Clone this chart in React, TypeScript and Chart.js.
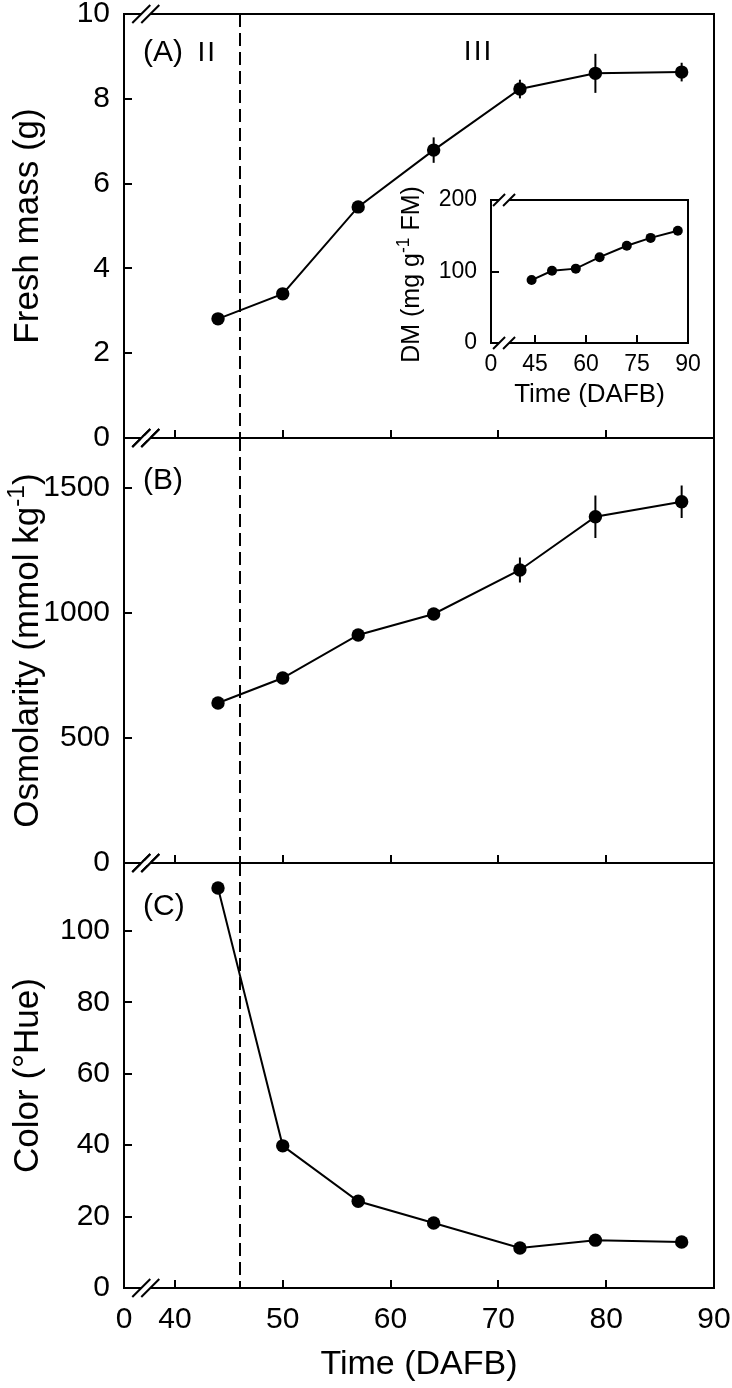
import React, { useEffect, useRef } from 'react';
import { Chart, registerables } from 'chart.js';

Chart.register(...registerables);

const FONT = '"Liberation Sans", Arial, Helvetica, sans-serif';

// ---------------- data ----------------
const days = [44, 50, 57, 64, 72, 79, 87];
const freshMass = [2.81, 3.4, 5.45, 6.79, 8.23, 8.6, 8.63];
const freshMassErr = [0, 0, 0.1, 0.3, 0.22, 0.46, 0.22];
const osmolarity = [640, 740, 912, 996, 1172, 1385, 1445];
const osmolarityErr = [0, 0, 20, 20, 50, 85, 65];
const hue = [112, 39.8, 24.3, 18.2, 11.2, 13.4, 12.9];
const hueErr = [0, 0, 0, 0, 0, 0, 0];
const dryMatter = [88, 101, 104, 120, 136, 147, 157];

const stageBoundary = 46;

// main x axis (broken: "0" sits at the left edge)
const xAxisMin = 35.28;
const xAxisMax = 90;
const xTickValues = [35.28, 40, 50, 60, 70, 80, 90];
const xTickLabels = ['0', '40', '50', '60', '70', '80', '90'];
const xBreakAt = 37.3;

const yTicksA = [0, 2, 4, 6, 8, 10];
const yTicksB = [0, 500, 1000, 1500];
const yTicksC = [0, 20, 40, 60, 80, 100];

// inset axis
const insetXMin = 32.06;
const insetXMax = 90;
const insetXTickValues = [32.06, 45, 60, 75, 90];
const insetXTickLabels = ['0', '45', '60', '75', '90'];
const insetXBreakAt = 35.9;
const insetYTicks = [0, 100, 200];

// ---------------- helpers ----------------
type Part = { text: string; sup?: boolean };
type Label = { text: string; x: number; dy: number; size: number; spacing?: number };

interface Spec {
  xs: number[];
  ys: number[];
  errs: number[];
  xMin: number;
  xMax: number;
  xTicks: number[];
  xLabels: string[];
  showXLabels: boolean;
  xBreak: number;
  yMin: number;
  yMax: number;
  yTicks: number[];
  padTop: number;
  padRight: number;
  yAxisWidth: number;
  xAxisHeight: number;
  tickSize: number;
  yTickPad: number;
  xTickPad: number;
  tickLen: number;
  pointRadius: number;
  lineWidth: number;
  frameWidth: number;
  yTitle: Part[];
  yTitleSize: number;
  yTitleDx: number;
  yTitleDy: number;
  xTitle?: string;
  xTitleSize?: number;
  xTitleDy?: number;
  dashedAt?: number;
  labels: Label[];
  breakHalf: number;
  breakGap: number;
  fillWhite?: boolean;
}

function drawRich(
  ctx: CanvasRenderingContext2D,
  parts: Part[],
  size: number,
  x: number,
  y: number,
  rotate: boolean
) {
  ctx.save();
  ctx.translate(x, y);
  if (rotate) ctx.rotate(-Math.PI / 2);
  const supSize = size * 0.7;
  let total = 0;
  const widths = parts.map((p) => {
    ctx.font = `${p.sup ? supSize : size}px ${FONT}`;
    const w = ctx.measureText(p.text).width;
    total += w;
    return w;
  });
  let xx = -total / 2;
  ctx.fillStyle = '#000';
  ctx.textAlign = 'left';
  ctx.textBaseline = 'alphabetic';
  parts.forEach((p, i) => {
    ctx.font = `${p.sup ? supSize : size}px ${FONT}`;
    ctx.fillText(p.text, xx, p.sup ? -size * 0.4 : 0);
    xx += widths[i];
  });
  ctx.restore();
}

function drawBreak(ctx: CanvasRenderingContext2D, cx: number, y0: number, half: number, gap: number, lw: number) {
  ctx.fillStyle = '#fff';
  ctx.fillRect(cx - gap / 2, y0 - lw, gap, lw * 2);
  ctx.strokeStyle = '#000';
  ctx.lineWidth = lw;
  for (const off of [-gap / 2, gap / 2]) {
    ctx.beginPath();
    ctx.moveTo(cx + off - half, y0 + half);
    ctx.lineTo(cx + off + half, y0 - half);
    ctx.stroke();
  }
}

function zeroPad(s: any) {
  s.paddingLeft = 0;
  s.paddingRight = 0;
  s.paddingTop = 0;
  s.paddingBottom = 0;
}

function build(canvas: HTMLCanvasElement, spec: Spec) {
  const decor = {
    id: 'decor',
    beforeDraw(chart: any) {
      if (!spec.fillWhite) return;
      const { ctx, chartArea: a } = chart;
      ctx.save();
      ctx.fillStyle = '#fff';
      ctx.fillRect(a.left, a.top, a.right - a.left, a.bottom - a.top);
      ctx.restore();
    },
    beforeDatasetsDraw(chart: any) {
      const { ctx, chartArea: a } = chart;
      const x = chart.scales.x;
      const y = chart.scales.y;
      ctx.save();
      if (spec.dashedAt !== undefined) {
        const px = Math.round(x.getPixelForValue(spec.dashedAt));
        ctx.strokeStyle = '#000';
        ctx.lineWidth = 2;
        ctx.setLineDash([13, 6]);
        ctx.beginPath();
        ctx.moveTo(px, a.top);
        ctx.lineTo(px, a.bottom);
        ctx.stroke();
        ctx.setLineDash([]);
      }
      ctx.strokeStyle = '#000';
      ctx.lineWidth = 2;
      spec.errs.forEach((e, i) => {
        if (!e) return;
        const px = x.getPixelForValue(spec.xs[i]);
        ctx.beginPath();
        ctx.moveTo(px, y.getPixelForValue(spec.ys[i] - e));
        ctx.lineTo(px, y.getPixelForValue(spec.ys[i] + e));
        ctx.stroke();
      });
      ctx.restore();
    },
    afterDraw(chart: any) {
      const { ctx, chartArea: a } = chart;
      const x = chart.scales.x;
      const y = chart.scales.y;
      ctx.save();
      const lw = spec.frameWidth;
      ctx.strokeStyle = '#000';
      ctx.lineWidth = lw;
      ctx.strokeRect(a.left, a.top, a.right - a.left, a.bottom - a.top);
      // inward ticks
      ctx.beginPath();
      spec.yTicks.forEach((v) => {
        const py = Math.round(y.getPixelForValue(v));
        ctx.moveTo(a.left, py);
        ctx.lineTo(a.left + spec.tickLen, py);
      });
      spec.xTicks.forEach((v, i) => {
        if (i === 0) return;
        const px = Math.round(x.getPixelForValue(v));
        ctx.moveTo(px, a.bottom);
        ctx.lineTo(px, a.bottom - spec.tickLen);
      });
      ctx.stroke();
      // axis breaks
      const bx = x.getPixelForValue(spec.xBreak);
      drawBreak(ctx, bx, a.top, spec.breakHalf, spec.breakGap, lw);
      drawBreak(ctx, bx, a.bottom, spec.breakHalf, spec.breakGap, lw);
      // panel texts
      ctx.fillStyle = '#000';
      ctx.textBaseline = 'middle';
      ctx.textAlign = 'left';
      spec.labels.forEach((l) => {
        ctx.font = `${l.size}px ${FONT}`;
        (ctx as any).letterSpacing = l.spacing ? `${l.spacing}px` : '0px';
        ctx.fillText(l.text, x.getPixelForValue(l.x), a.top + l.dy);
      });
      (ctx as any).letterSpacing = '0px';
      // axis titles
      drawRich(ctx, spec.yTitle, spec.yTitleSize, a.left + spec.yTitleDx, (a.top + a.bottom) / 2 + spec.yTitleDy, true);
      if (spec.xTitle) {
        drawRich(ctx, [{ text: spec.xTitle }], spec.xTitleSize || 30, (a.left + a.right) / 2, a.bottom + (spec.xTitleDy || 0), false);
      }
      ctx.restore();
    },
  };

  return new Chart(canvas, {
    type: 'line',
    data: {
      datasets: [
        {
          data: spec.xs.map((d, i) => ({ x: d, y: spec.ys[i] })),
          borderColor: '#000',
          backgroundColor: '#000',
          borderWidth: spec.lineWidth,
          pointRadius: spec.pointRadius,
          pointHoverRadius: spec.pointRadius,
          pointBackgroundColor: '#000',
          pointBorderWidth: 0,
          tension: 0,
          clip: false as any,
        },
      ],
    },
    options: {
      animation: false,
      responsive: false,
      devicePixelRatio: 1,
      events: [],
      layout: { padding: { top: spec.padTop, right: spec.padRight, left: 0, bottom: 0 } },
      plugins: { legend: { display: false }, tooltip: { enabled: false } },
      scales: {
        x: {
          type: 'linear',
          min: spec.xMin,
          max: spec.xMax,
          afterBuildTicks: (s: any) => {
            s.ticks = spec.xTicks.map((v) => ({ value: v }));
          },
          ticks: {
            display: spec.showXLabels,
            autoSkip: false,
            maxRotation: 0,
            minRotation: 0,
            padding: spec.xTickPad,
            color: '#000',
            font: { size: spec.tickSize, family: FONT },
            callback: (_v: any, i: number) => spec.xLabels[i],
          },
          grid: { display: false, drawTicks: false },
          border: { display: false },
          afterFit: (s: any) => {
            s.height = spec.xAxisHeight;
            zeroPad(s);
          },
        },
        y: {
          type: 'linear',
          min: spec.yMin,
          max: spec.yMax,
          afterBuildTicks: (s: any) => {
            s.ticks = spec.yTicks.map((v) => ({ value: v }));
          },
          ticks: {
            padding: spec.yTickPad,
            color: '#000',
            font: { size: spec.tickSize, family: FONT },
            callback: (v: any) => String(v),
          },
          grid: { display: false, drawTicks: false },
          border: { display: false },
          afterFit: (s: any) => {
            s.width = spec.yAxisWidth;
            zeroPad(s);
          },
        },
      },
    },
    plugins: [decor],
  } as any);
}

const mainCommon = {
  xs: days,
  xMin: xAxisMin,
  xMax: xAxisMax,
  xTicks: xTickValues,
  xLabels: xTickLabels,
  xBreak: xBreakAt,
  padRight: 18,
  yAxisWidth: 124,
  tickSize: 30,
  yTickPad: 14,
  xTickPad: 14,
  tickLen: 8,
  pointRadius: 6.7,
  lineWidth: 2,
  frameWidth: 2,
  yTitleSize: 35,
  yTitleDx: -86,
  yTitleDy: 0,
  dashedAt: stageBoundary,
  breakHalf: 9,
  breakGap: 9,
};

const specA: Spec = {
  ...mainCommon,
  ys: freshMass,
  errs: freshMassErr,
  showXLabels: false,
  yMin: 0,
  yMax: 10,
  yTicks: yTicksA,
  padTop: 14,
  xAxisHeight: 22,
  yTitle: [{ text: 'Fresh mass (g)' }],
  labels: [
    { text: '(A)', x: 37.05, dy: 39, size: 30 },
    { text: 'II', x: 42.1, dy: 39, size: 28, spacing: 2 },
    { text: 'III', x: 66.8, dy: 38, size: 28, spacing: 2 },
  ],
};

const specB: Spec = {
  ...mainCommon,
  ys: osmolarity,
  errs: osmolarityErr,
  showXLabels: false,
  yMin: 0,
  yMax: 1700,
  yTicks: yTicksB,
  padTop: 13,
  xAxisHeight: 17,
  yTitle: [{ text: 'Osmolarity (mmol kg' }, { text: '-1', sup: true }, { text: ')' }],
  labels: [{ text: '(B)', x: 37.05, dy: 43, size: 30 }],
};

const specC: Spec = {
  ...mainCommon,
  ys: hue,
  errs: hueErr,
  showXLabels: true,
  yMin: 0,
  yMax: 119,
  yTicks: yTicksC,
  padTop: 13,
  xAxisHeight: 100,
  yTitle: [{ text: 'Color (\u00B0Hue)' }],
  xTitle: 'Time (DAFB)',
  xTitleSize: 34,
  xTitleDy: 86,
  labels: [{ text: '(C)', x: 37.05, dy: 44, size: 30 }],
};

const specInset: Spec = {
  xs: days,
  ys: dryMatter,
  errs: [0, 0, 0, 0, 0, 0, 0],
  xMin: insetXMin,
  xMax: insetXMax,
  xTicks: insetXTickValues,
  xLabels: insetXTickLabels,
  showXLabels: true,
  xBreak: insetXBreakAt,
  yMin: 0,
  yMax: 200,
  yTicks: insetYTicks,
  padTop: 30,
  padRight: 44,
  yAxisWidth: 111,
  xAxisHeight: 77,
  tickSize: 23,
  yTickPad: 14,
  xTickPad: 8,
  tickLen: 8,
  pointRadius: 5,
  lineWidth: 2,
  frameWidth: 2,
  yTitle: [{ text: 'DM (mg g' }, { text: '-1', sup: true }, { text: ' FM)' }],
  yTitleSize: 25,
  yTitleDx: -72,
  yTitleDy: 3,
  xTitle: 'Time (DAFB)',
  xTitleSize: 26,
  xTitleDy: 59,
  labels: [],
  breakHalf: 6,
  breakGap: 10,
  fillWhite: true,
};

export default function App() {
  const refA = useRef<HTMLCanvasElement>(null);
  const refB = useRef<HTMLCanvasElement>(null);
  const refC = useRef<HTMLCanvasElement>(null);
  const refI = useRef<HTMLCanvasElement>(null);

  useEffect(() => {
    Chart.defaults.font.family = FONT;
    Chart.defaults.color = '#000';
    const charts = [
      build(refA.current!, specA),
      build(refB.current!, specB),
      build(refC.current!, specC),
      build(refI.current!, specInset),
    ];
    return () => charts.forEach((c) => c.destroy());
  }, []);

  const abs = (left: number, top: number, w: number, h: number): React.CSSProperties => ({
    position: 'absolute',
    left,
    top,
    width: w,
    height: h,
  });

  return (
    <div style={{ position: 'absolute', left: 0, top: 0, width: 732, height: 1388, background: '#fff' }}>
      <canvas ref={refA} width={732} height={460} style={abs(0, 0, 732, 460)} />
      <canvas ref={refB} width={732} height={455} style={abs(0, 425, 732, 455)} />
      <canvas ref={refC} width={732} height={538} style={abs(0, 850, 732, 538)} />
      <canvas ref={refI} width={352} height={250} style={abs(380, 170, 352, 250)} />
    </div>
  );
}
